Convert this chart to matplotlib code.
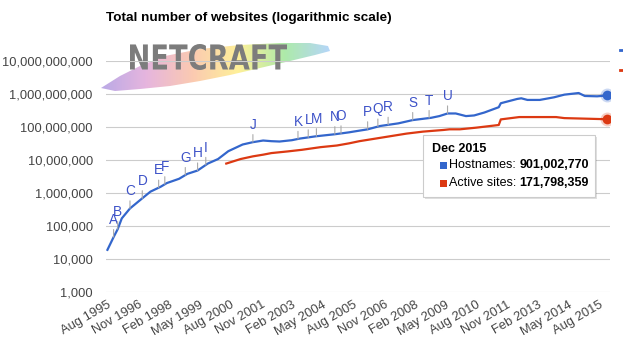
import numpy as np
import pandas as pd
import matplotlib
matplotlib.use("Agg")
import matplotlib.pyplot as plt
from matplotlib.patches import Rectangle, Polygon, PathPatch
from matplotlib.textpath import TextPath
from matplotlib.font_manager import FontProperties
from matplotlib.transforms import Affine2D
from matplotlib.lines import Line2D

plt.rcParams["font.family"] = ["Liberation Sans", "DejaVu Sans"]

# Hostnames (blue) and active sites (red)
host_dates = ["1995-08", "1995-11", "1996-01", "1996-03", "1996-07", "1997-01", "1997-05",
              "1997-10", "1998-01", "1998-07", "1998-11", "1999-04", "1999-09", "2000-02",
              "2000-07", "2001-02", "2001-07", "2001-12", "2002-04", "2002-08", "2003-02",
              "2003-06", "2004-02", "2004-11", "2005-06", "2005-08", "2006-03", "2006-09",
              "2007-06", "2008-01", "2008-10", "2009-02", "2009-06", "2009-10", "2010-03",
              "2010-07", "2010-12", "2011-07", "2011-08", "2012-04", "2012-06", "2012-09",
              "2013-03", "2013-10", "2014-03", "2014-10", "2015-01", "2015-07", "2015-12"]
host_values = [18957, 46000, 80000, 170000, 340000, 690000, 1100000,
               1550000, 2000000, 2700000, 3800000, 4800000, 7800000, 10700000,
               18500000, 29500000, 34700000, 38900000, 37200000, 36300000, 39800000,
               44700000, 52500000, 60300000, 69000000, 72400000, 85000000, 107000000,
               129000000, 162000000, 190000000, 214000000, 257000000, 257000000, 214000000,
               224000000, 275000000, 398000000, 525000000, 708000000, 741000000, 661000000,
               661000000, 794000000, 955000000, 1070000000, 871000000, 851000000, 901002770]

active_dates = ["2000-06", "2001-01", "2001-07", "2001-12", "2002-04", "2002-12", "2003-07",
                "2004-04", "2004-12", "2005-06", "2005-11", "2006-09", "2007-10", "2008-06",
                "2009-04", "2009-07", "2009-12", "2010-08", "2011-07", "2011-08", "2012-05",
                "2013-11", "2014-03", "2015-12"]
active_values = [7800000, 10700000, 12900000, 14500000, 16200000, 18200000, 20400000,
                 24500000, 27500000, 32000000, 37200000, 46800000, 63100000, 72400000,
                 81300000, 85100000, 85100000, 95500000, 115000000, 170000000, 200000000,
                 200000000, 186000000, 171798359]

event_letters = list("ABCDEFGHIJKLMNOPQRSTU")
event_dates = ["1995-11", "1996-01", "1996-07", "1997-01", "1997-09", "1997-12", "1998-10",
               "1999-04", "1999-08", "2001-07", "2003-05", "2003-10", "2004-02", "2004-11",
               "2005-02", "2006-03", "2006-08", "2007-01", "2008-01", "2008-09", "2009-06"]

tick_labels = ["Aug 1995", "Nov 1996", "Feb 1998", "May 1999", "Aug 2000", "Nov 2001",
               "Feb 2003", "May 2004", "Aug 2005", "Nov 2006", "Feb 2008", "May 2009",
               "Aug 2010", "Nov 2011", "Feb 2013", "May 2014", "Aug 2015"]
y_ticks = [1e3, 1e4, 1e5, 1e6, 1e7, 1e8, 1e9, 1e10]

BLUE = "#3366cc"
RED = "#dc3912"


def months(s):
    d = pd.to_datetime(s)
    return (d.year - 1995) * 12 + d.month - 8


host_x = np.array([months(d) for d in host_dates])
active_x = np.array([months(d) for d in active_dates])

fig = plt.figure(figsize=(6.23, 3.51), dpi=100)

# background layer in pixel coords (logo)
bg = fig.add_axes([0, 0, 1, 1], zorder=0)
bg.set_xlim(0, 623)
bg.set_ylim(351, 0)
bg.axis("off")

swoosh = [(101, 88), (120, 76), (140, 66), (165, 56), (200, 49), (240, 45), (280, 43),
          (310, 43), (328, 46), (330, 51), (315, 55), (290, 61), (260, 68), (230, 75),
          (200, 81), (170, 86), (140, 89), (115, 91)]
clip = Polygon(swoosh, closed=True, transform=bg.transData, fc="none", ec="none")
bg.add_patch(clip)
stops = np.array([[0.66, 0.58, 0.88], [0.88, 0.64, 0.84], [0.98, 0.74, 0.62],
                  [1.0, 0.93, 0.50], [0.60, 0.90, 0.58], [0.64, 0.80, 0.98]])
pos = np.linspace(0, 1, len(stops))
t = np.linspace(0, 1, 200)
grad = np.stack([np.interp(t, pos, stops[:, i]) for i in range(3)], axis=-1)[None, :, :]
im = bg.imshow(grad, extent=(100, 331, 92, 40), aspect="auto", alpha=0.8, zorder=1)
im.set_clip_path(clip)
bg.set_xlim(0, 623)
bg.set_ylim(351, 0)

tp = TextPath((0, 0), "NETCRAFT", size=1, prop=FontProperties(family="DejaVu Sans", weight="bold"))
bb = tp.get_extents()
logo_tr = (Affine2D().translate(-bb.x0, -bb.y0)
           .scale(157 / bb.width, -26 / bb.height).translate(130, 70) + bg.transData)
bg.add_patch(PathPatch(tp, transform=logo_tr, fc="#7c7c7c", ec="none", zorder=2))

# main chart
ax = fig.add_axes([106 / 623, 1 - 292 / 351, 504 / 623, 231 / 351], zorder=2)
ax.patch.set_alpha(0)
ax.set_yscale("log")
ax.set_ylim(1e3, 1e10)
ax.set_xlim(-0.7, 245.3)

ax.plot(host_x, host_values, color=BLUE, lw=1.6, zorder=3, solid_joinstyle="round")
ax.plot(active_x, active_values, color=RED, lw=1.6, zorder=3, solid_joinstyle="round")
for xs, vs, c in [(host_x, host_values, BLUE), (active_x, active_values, RED)]:
    ax.plot(xs[-1], vs[-1], "o", ms=10, color=c, alpha=0.25, mec="none", zorder=4)
    ax.plot(xs[-1], vs[-1], "o", ms=7, color=c, mec="none", zorder=5)

log_host = np.log10(host_values)
for letter, d in zip(event_letters, event_dates):
    mx = months(d)
    my = 10 ** np.interp(mx, host_x, log_host)
    ax.annotate(letter, xy=(mx, my), xytext=(0, 12.5), textcoords="offset points",
                ha="center", va="center", fontsize=9.8, color="#3d52c8",
                arrowprops=dict(arrowstyle="-", color="#aaaaaa", lw=0.8, shrinkA=0, shrinkB=0))

ax.set_yticks(y_ticks)
ax.set_yticklabels([f"{int(v):,}" for v in y_ticks])
ax.minorticks_off()
ax.set_xticks([months(s) for s in tick_labels])
ax.set_xticklabels(tick_labels, rotation=30, ha="right", rotation_mode="anchor")
ax.tick_params(axis="y", length=0, pad=9.5, labelsize=9.3, labelcolor="#444444")
ax.tick_params(axis="x", length=0, pad=5, labelsize=9.3, labelcolor="#444444")
ax.grid(axis="y", color="#cccccc", lw=0.8)
ax.set_axisbelow(True)
for s in ax.spines.values():
    s.set_visible(False)

fig.text(106 / 623, 1 - 18 / 351, "Total number of websites (logarithmic scale)",
         fontsize=9.7, fontweight="bold", va="center", ha="left")

# legend cut off at the right edge
fig.legend([Line2D([0], [0], color=BLUE, lw=2), Line2D([0], [0], color=RED, lw=2)],
           ["Hostnames", "Active sites"], loc="upper left",
           bbox_to_anchor=(620 / 623, 1 - 45 / 351), frameon=False, borderpad=0,
           borderaxespad=0, labelspacing=0.7, fontsize=9, handlelength=1.5)

# tooltip overlay
top = fig.add_axes([0, 0, 1, 1], zorder=5)
top.set_xlim(0, 623)
top.set_ylim(351, 0)
top.axis("off")
top.add_patch(Rectangle((425, 137), 172, 62, fc="black", alpha=0.12, ec="none"))
top.add_patch(Rectangle((423, 135), 172, 62, fc="white", ec="#cccccc", lw=0.8))
top.text(432, 149.5, "Dec 2015", fontsize=9, fontweight="bold", va="center", ha="left")
rows = [("Hostnames: ", f"{host_values[-1]:,}", BLUE, 165),
        ("Active sites: ", f"{active_values[-1]:,}", RED, 183)]
for label, val, c, yy in rows:
    top.add_patch(Rectangle((440, yy - 3.5), 7, 7, fc=c, ec="none"))
    t1 = top.text(449, yy, label, fontsize=9, va="center", ha="left")
    top.annotate(val, xy=(1, 0.5), xycoords=t1, va="center", ha="left",
                 fontsize=9, fontweight="bold")

fig.savefig("out.png", dpi=100)
